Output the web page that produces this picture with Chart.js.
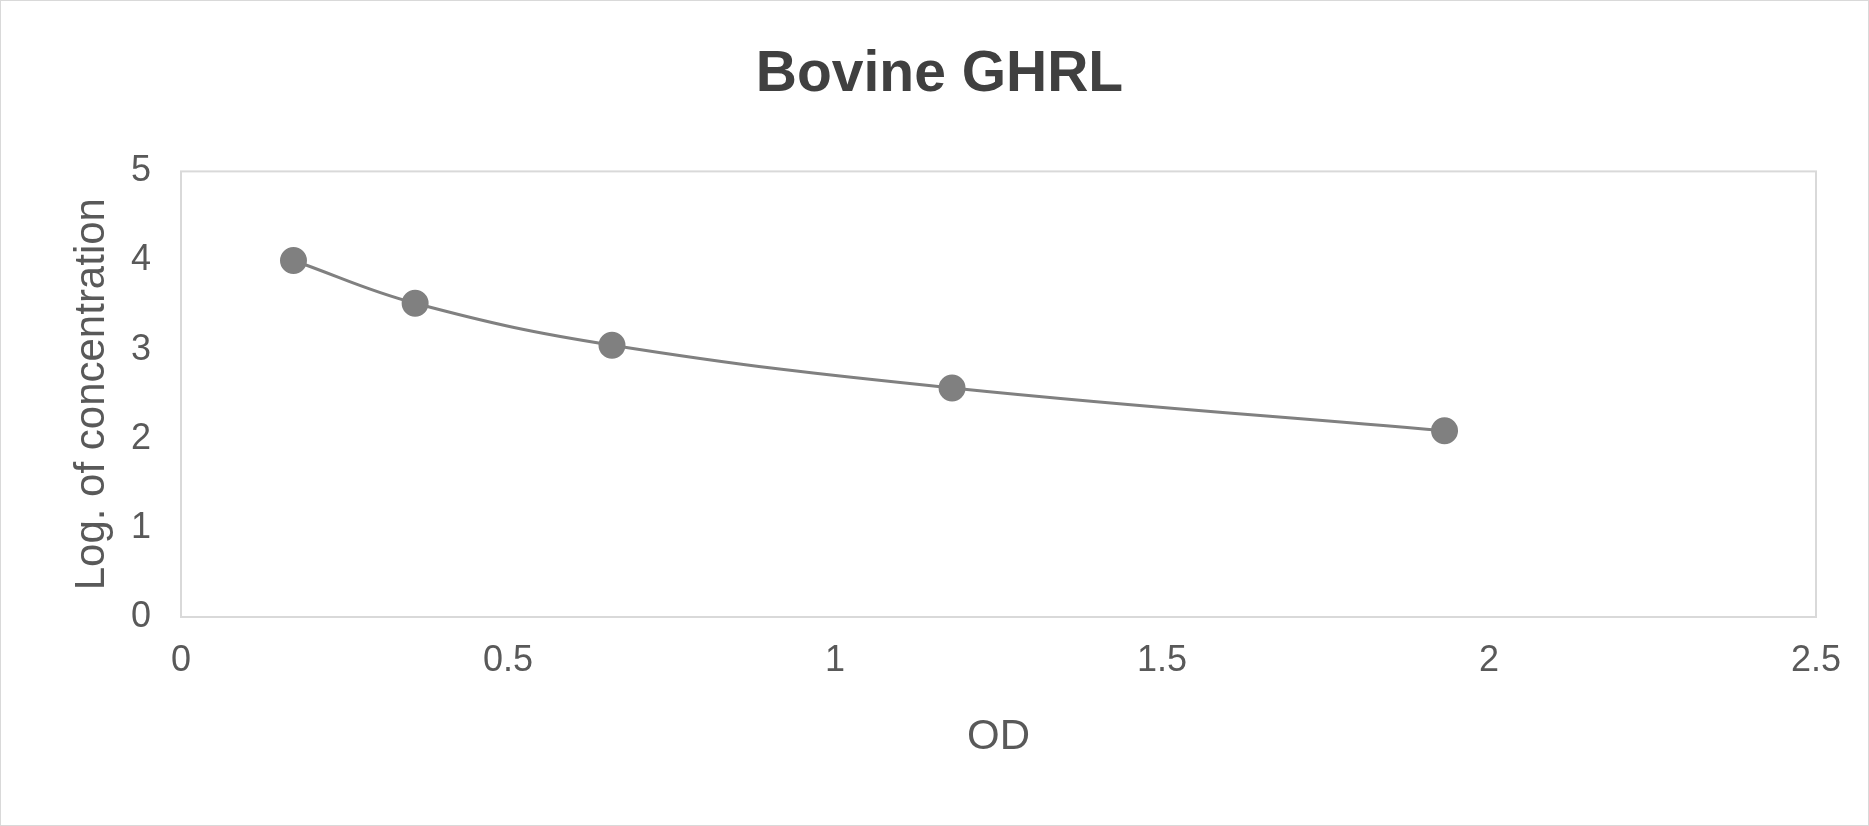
<!DOCTYPE html>
<html><head><meta charset="utf-8">
<script src="https://cdn.jsdelivr.net/npm/chart.js@4"></script>
<style>html,body{margin:0;padding:0;background:#fff}#w{width:1867px;height:824px;border:1px solid #d9d9d9}</style>
</head><body><div id="w"><canvas id="c"></canvas></div>
<script>
const odValues = [0.172, 0.358, 0.659, 1.179, 1.932];
const logConc = [4.0, 3.52, 3.05, 2.57, 2.09];
const xTicks = [0, 0.5, 1, 1.5, 2, 2.5];
const yTicks = [0, 1, 2, 3, 4, 5];
const font = 'Liberation Sans, Arial, sans-serif';
const boxPlugin = {id:'box', afterDraw(c){const a=c.chartArea,x=c.ctx;x.save();x.strokeStyle='#d9d9d9';x.lineWidth=2;x.strokeRect(a.left,a.top,a.right-a.left,a.bottom-a.top);x.restore();}};
new Chart(document.getElementById('c'), {
  type:'scatter',
  data:{datasets:[{data:odValues.map((v,i)=>({x:v,y:logConc[i]})),showLine:true,tension:0.4,
    borderColor:'#808080',backgroundColor:'#808080',borderWidth:3,pointRadius:12,pointHoverRadius:12}]},
  options:{responsive:true,maintainAspectRatio:false,animation:false,
    layout:{padding:{top:14,right:52,bottom:58,left:62}},
    plugins:{legend:{display:false},tooltip:{enabled:false},
      title:{display:true,text:'Bovine GHRL',color:'#404040',font:{family:font,size:57,weight:'bold'},padding:{top:26,bottom:62}}},
    scales:{
      x:{type:'linear',min:0,max:2.5,afterBuildTicks(s){s.ticks=xTicks.map(v=>({value:v}));},
        grid:{display:false},border:{display:false},
        ticks:{color:'#595959',font:{family:font,size:36},padding:14,callback:v=>String(v)},
        title:{display:true,text:'OD',color:'#595959',font:{family:font,size:42},padding:{top:14}},
        afterFit(s){s.height=150;}},
      y:{type:'linear',min:0,max:5,afterBuildTicks(s){s.ticks=yTicks.map(v=>({value:v}));},
        grid:{display:false},border:{display:false},
        ticks:{color:'#595959',font:{family:font,size:36},padding:22,callback:v=>String(v)},
        title:{display:true,text:'Log. of concentration',color:'#595959',font:{family:font,size:42},padding:{bottom:8}},
        afterFit(s){s.width=118;}}
    }},
  plugins:[boxPlugin]
});
</script></body></html>
